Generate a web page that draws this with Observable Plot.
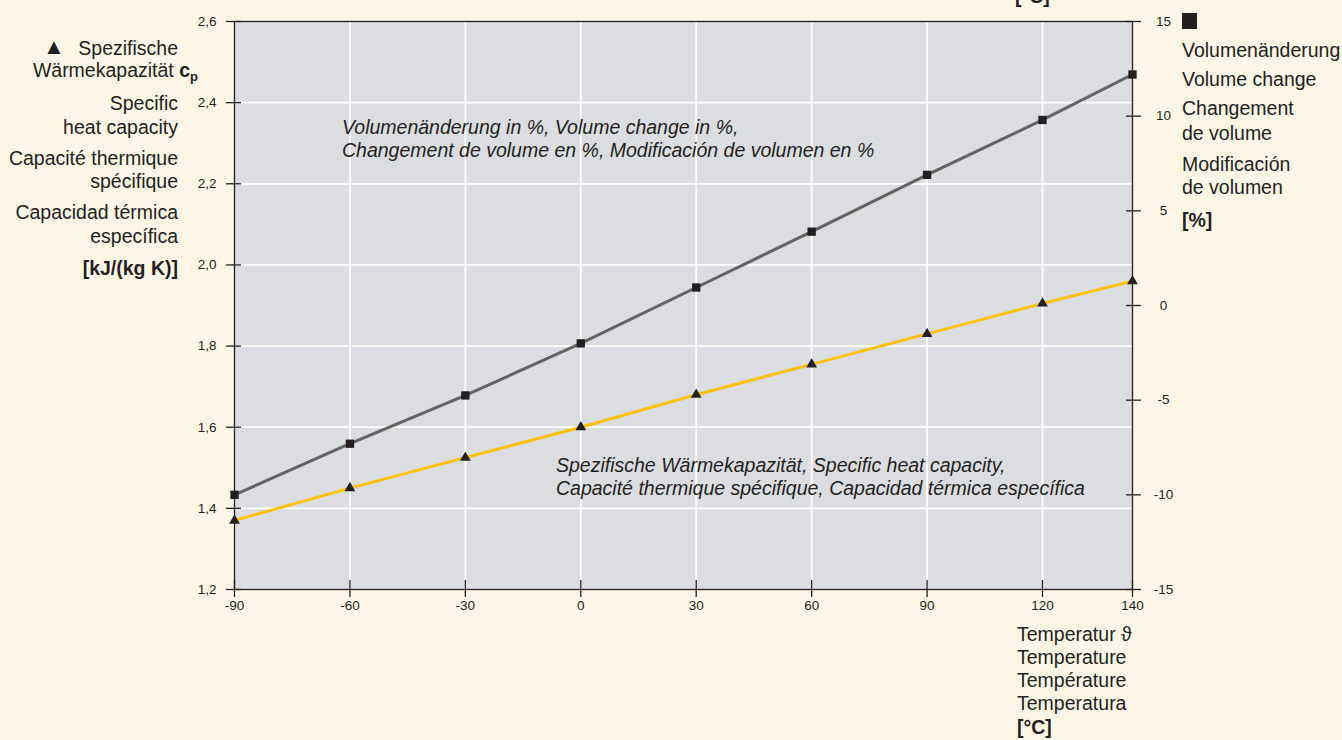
<!DOCTYPE html>
<html>
<head>
<meta charset="utf-8">
<script src="https://cdn.jsdelivr.net/npm/d3@7"></script>
<script src="https://cdn.jsdelivr.net/npm/@observablehq/plot@0.6"></script>
<style>
html, body { margin: 0; padding: 0; background: #fdf6e7; overflow: hidden; }
#wrap { position: relative; width: 1342px; height: 740px; font-family: "Liberation Sans", Arial, sans-serif; color: #231f20; }
#wrap svg { position: absolute; left: 0; top: 0; }
#wrap svg text { font-size: 13.5px !important; font-family: "Liberation Sans", Arial, sans-serif !important; fill: #231f20; }
.lbl { position: absolute; font-size: 19.5px; line-height: 20px; white-space: nowrap; transform: translateY(-50%); }
.r { transform: translate(-100%, -50%); text-align: right; }
.b { font-weight: bold; }
.i { font-style: italic; }
.tri { font-size: 22px; }
sub { font-size: 13px; vertical-align: -4px; line-height: 0; }
</style>
</head>
<body>
<div id="wrap"></div>
<script>
// ---- data ----
const temperatures = [-90, -60, -30, 0, 30, 60, 90, 120, 140];
const heatCapacity = [1.37, 1.45, 1.525, 1.60, 1.68, 1.755, 1.83, 1.905, 1.96];   // kJ/(kg K), left axis
const volumeChange = [-10.0, -7.3, -4.75, -2.0, 0.95, 3.9, 6.9, 9.8, 12.2];       // %, right axis
const xTicks = [-90, -60, -30, 0, 30, 60, 90, 120, 140];
const leftTicks = [1.2, 1.4, 1.6, 1.8, 2.0, 2.2, 2.4, 2.6];
const rightTicks = [-15, -10, -5, 0, 5, 10, 15];
const leftDomain = [1.2, 2.6];
const rightDomain = [-15, 15];

// map right-axis values into the left-axis domain (shared y scale)
const toLeft = d3.scaleLinear().domain(rightDomain).range(leftDomain);
const fromLeft = toLeft.invert;

const heatData = temperatures.map((t, i) => ({t, v: heatCapacity[i]}));
const volData = temperatures.map((t, i) => ({t, v: toLeft(volumeChange[i])}));

const ink = "#231f20";
const comma = d => d.toFixed(1).replace(".", ",");

const chart = Plot.plot({
  width: 1342,
  height: 740,
  marginLeft: 234,
  marginRight: 210,
  marginTop: 21,
  marginBottom: 151,
  style: {background: "transparent", fontFamily: "Liberation Sans, Arial, sans-serif", fontSize: "13px", color: ink},
  // the original axis is piecewise: the last segment (120–140) is slightly stretched
  x: {type: "linear", domain: [-90, 120, 140], range: [234, 1042, 1132]},
  y: {type: "linear", domain: leftDomain},
  marks: [
    Plot.frame({fill: "#dcdde0", stroke: null}),
    Plot.gridX({ticks: xTicks.slice(1, -1), stroke: "white", strokeOpacity: 1, strokeWidth: 1.8}),
    Plot.gridY({ticks: leftTicks.slice(1, -1), stroke: "white", strokeOpacity: 1, strokeWidth: 1.8}),
    Plot.line(volData, {x: "t", y: "v", stroke: "#626262", strokeWidth: 3}),
    Plot.line(heatData, {x: "t", y: "v", stroke: "#fbc200", strokeWidth: 3}),
    Plot.frame({stroke: ink, strokeWidth: 1.3}),
    Plot.dot(volData, {x: "t", y: "v", symbol: "square", r: 4.7, fill: ink, stroke: null}),
    Plot.dot(heatData, {x: "t", y: "v", symbol: "triangle", r: 4, fill: ink, stroke: null}),
    // left axis: crossing ticks + labels
    Plot.axisY({anchor: "left", ticks: leftTicks, tickSize: 15, dx: 7, tickFormat: () => "", label: null, stroke: ink, strokeWidth: 1.3}),
    Plot.axisY({anchor: "left", ticks: leftTicks, tickSize: 0, tickPadding: 18, tickFormat: comma, label: null}),
    // right axis: crossing ticks + labels
    Plot.axisY({anchor: "right", ticks: rightTicks.map(toLeft), tickSize: 15, dx: -7, tickFormat: () => "", label: null, stroke: ink, strokeWidth: 1.3}),
    Plot.axisY({anchor: "right", ticks: rightTicks.map(toLeft), tickSize: 0, tickPadding: 31, textAnchor: "middle",
      tickFormat: d => String(Math.round(fromLeft(d))), label: null}),
    // bottom axis
    Plot.axisX({anchor: "bottom", ticks: xTicks, tickSize: 17, dy: -9, tickFormat: () => "", label: null, stroke: ink, strokeWidth: 1.3}),
    Plot.axisX({anchor: "bottom", ticks: xTicks, tickSize: 0, tickPadding: 11, tickFormat: d => String(d), label: null})
  ]
});

const wrap = document.getElementById("wrap");
wrap.appendChild(chart);

function lbl(html, x, y, cls = "") {
  const d = document.createElement("div");
  d.className = "lbl " + cls;
  d.style.left = x + "px";
  d.style.top = y + "px";
  d.innerHTML = html;
  wrap.appendChild(d);
  return d;
}

// left axis title (right aligned)
lbl("&#9650;", 43, 47, "tri");
lbl("Spezifische", 178, 48, "r");
lbl("Wärmekapazität <b>c<sub>p</sub></b>", 198, 70, "r");
lbl("Specific", 178, 103, "r");
lbl("heat capacity", 178, 127, "r");
lbl("Capacité thermique", 178, 158, "r");
lbl("spécifique", 178, 181, "r");
lbl("Capacidad térmica", 178, 212, "r");
lbl("específica", 178, 236, "r");
lbl("[kJ/(kg K)]", 178, 268, "r b");

// right axis title
const sq = document.createElement("div");
sq.style.cssText = "position:absolute;left:1182px;top:13px;width:15px;height:16px;background:" + ink;
wrap.appendChild(sq);
lbl("Volumenänderung", 1182, 50);
lbl("Volume change", 1182, 79);
lbl("Changement", 1182, 108);
lbl("de volume", 1182, 133);
lbl("Modificación", 1182, 164);
lbl("de volumen", 1182, 187);
lbl("[%]", 1182, 220, "b");

// x axis title (the reference shows a clipped copy at the very top)
lbl("[°C]", 1015, -4, "b");
lbl("Temperatur &#977;", 1017, 634);
lbl("Temperature", 1017, 657);
lbl("Température", 1017, 680);
lbl("Temperatura", 1017, 703);
lbl("[°C]", 1017, 727, "b");

// in-plot annotations
lbl("Volumenänderung in %, Volume change in %,", 342, 127, "i");
lbl("Changement de volume en %, Modificación de volumen en %", 342, 150, "i");
lbl("Spezifische Wärmekapazität, Specific heat capacity,", 556, 465, "i");
lbl("Capacité thermique spécifique, Capacidad térmica específica", 556, 488, "i");
</script>
</body>
</html>
